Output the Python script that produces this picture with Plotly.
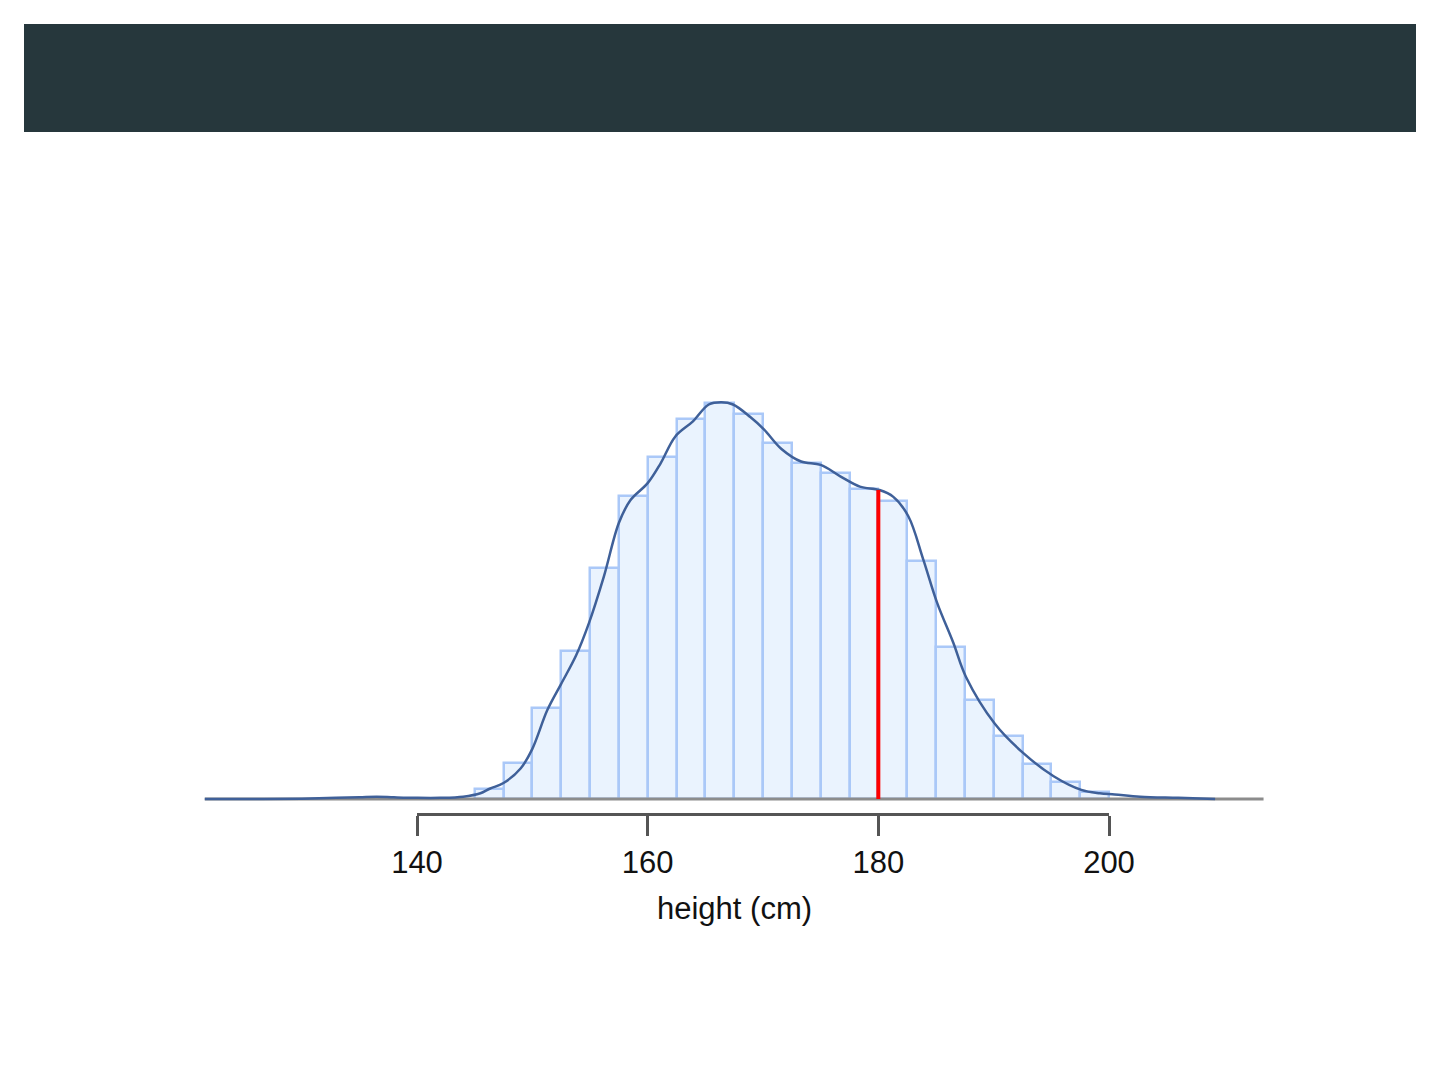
import plotly.graph_objects as go

# histogram of heights, bin width 2.5 cm (density)
bin_centers = [146.25, 148.75, 151.25, 153.75, 156.25, 158.75, 161.25, 163.75,
               166.25, 168.75, 171.25, 173.75, 176.25, 178.75, 181.25, 183.75,
               186.25, 188.75, 191.25, 193.75, 196.25, 198.75]
bin_density = [0.0009, 0.0032, 0.0080, 0.0130, 0.0203, 0.0266, 0.0300, 0.0333,
               0.0347, 0.0338, 0.0312, 0.0295, 0.0286, 0.0272, 0.0261, 0.0209,
               0.0133, 0.0087, 0.0055, 0.0031, 0.0015, 0.0006]
bin_width = 2.5

# kernel density estimate
kde_x = [121.6, 126, 130, 133, 135, 136.5, 138, 140, 142, 144, 145.5, 146.3,
         147.5, 149, 150, 151.3, 152.5, 153.8, 154.9, 156.2, 157.5, 158.5,
         160, 161.1, 162.4, 163.9, 165.3, 166.4, 167.4, 168.9, 170.1, 171.6,
         173.3, 175.0, 176.7, 178.4, 180.1, 181.3, 182.6, 183.9, 185.1, 186.5,
         187.6, 190.1, 192.6, 195.2, 197.6, 199.2, 200.5, 202.7, 206, 209.2]
kde_y = [0.0, 0.0, 0.00003, 0.0001, 0.00015, 0.0002, 0.00015, 0.0001, 0.0001,
         0.0002, 0.0005, 0.0009, 0.0014, 0.0027, 0.0044, 0.0078, 0.0101, 0.0126,
         0.0154, 0.0195, 0.0242, 0.0262, 0.0277, 0.0294, 0.0318, 0.0331, 0.0346,
         0.0348, 0.0346, 0.0335, 0.0324, 0.0307, 0.0296, 0.0293, 0.0283, 0.0274,
         0.0271, 0.0265, 0.0248, 0.0210, 0.0172, 0.0137, 0.0107, 0.0066, 0.0040,
         0.0020, 0.0008, 0.0005, 0.0004, 0.0002, 0.0001, 0.0]

baseline_x = [121.6, 213.4]
marker_x = 180
marker_height = 0.0271

tick_vals = [140, 160, 180, 200]
x_title = "height (cm)"
x_title_at = 167.5

# pixel geometry of the 1440x1080 page (the page body adds an 8px margin)
W, H = 1440, 1080
OFF = 8
px_140, px_200 = 417 - OFF, 1109 - OFF
ppc = (px_200 - px_140) / 60.0          # px per cm
base_px = 799 - OFF                      # y pixel of density 0
ppu = 11402.0                            # px per unit density
axis_px = 813 - OFF                      # y pixel of the drawn axis line
title_px = 908 - OFF
hdr_l, hdr_r, hdr_t, hdr_b = 24 - OFF, 1416 - OFF, 24 - OFF, 132 - OFF

fig = go.Figure()

fig.add_trace(go.Scatter(
    x=baseline_x, y=[0, 0], mode="lines",
    line=dict(color="#8c8c8c", width=3), hoverinfo="skip", showlegend=False))

fig.add_trace(go.Bar(
    x=bin_centers, y=bin_density, width=bin_width,
    marker=dict(color="#eaf3fe", line=dict(color="#aac8f8", width=2.5)),
    showlegend=False))

fig.add_trace(go.Scatter(
    x=kde_x, y=kde_y, mode="lines", line_shape="spline",
    line=dict(color="#3f6099", width=2.5), showlegend=False))

fig.add_trace(go.Scatter(
    x=[marker_x, marker_x], y=[0, marker_height], mode="lines",
    line=dict(color="#ff0000", width=4), showlegend=False))

# dummy trace so the tick axis gets drawn
fig.add_trace(go.Scatter(
    x=[tick_vals[0]], y=[0], xaxis="x2", yaxis="y2", mode="markers",
    marker=dict(opacity=0), hoverinfo="skip", showlegend=False))

# dark header band
fig.add_shape(type="rect", xref="paper", yref="paper",
              x0=hdr_l / W, x1=hdr_r / W, y0=(H - hdr_b) / H, y1=(H - hdr_t) / H,
              fillcolor="#26373c", line_width=0, layer="above")

font_family = "Liberation Sans, Arial, Helvetica, sans-serif"

# axis title sits a bit left of the axis centre in the original
fig.add_annotation(text=x_title, x=x_title_at, xref="x2",
                   y=(H - title_px) / H, yref="paper", yanchor="middle",
                   showarrow=False,
                   font=dict(family=font_family, size=31, color="#111111"))

fig.update_layout(
    width=W, height=H,
    margin=dict(l=0, r=0, t=0, b=0, autoexpand=False),
    paper_bgcolor="white", plot_bgcolor="rgba(0,0,0,0)",
    bargap=0,
    xaxis=dict(domain=[0, 1], range=[140 - px_140 / ppc, 140 + (W - px_140) / ppc],
               visible=False, fixedrange=True),
    yaxis=dict(domain=[0, 1], range=[-(H - base_px) / ppu, base_px / ppu],
               visible=False, fixedrange=True),
    xaxis2=dict(domain=[px_140 / W, px_200 / W], range=[140, 200], anchor="y2",
                showline=True, linecolor="#555555", linewidth=2.5,
                ticks="outside", ticklen=20, tickwidth=2.5, tickcolor="#555555",
                tickvals=tick_vals, showgrid=False, zeroline=False,
                fixedrange=True, automargin=False,
                tickfont=dict(family=font_family, size=31, color="#111111")),
    yaxis2=dict(domain=[(H - axis_px) / H, (H - axis_px) / H + 0.05], anchor="x2",
                visible=False, fixedrange=True),
)

fig.write_html("out.html")
